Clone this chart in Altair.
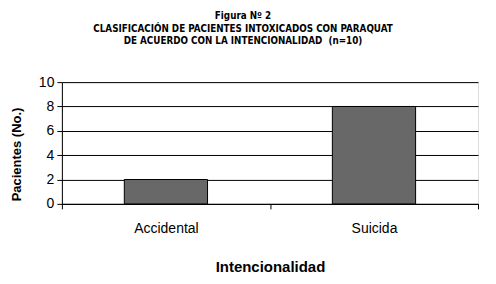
import altair as alt
import pandas as pd

categories = ["Accidental", "Suicida"]
patients = [2, 8]
y_ticks = [0, 2, 4, 6, 8, 10]
title_lines = ["Figura Nº 2",
               "CLASIFICACIÓN DE PACIENTES INTOXICADOS CON PARAQUAT",
               "DE ACUERDO CON LA INTENCIONALIDAD \u00a0(n=10)"]

df = pd.DataFrame({"cat": categories, "val": patients})

chart = alt.Chart(df).mark_bar(
    width=alt.RelativeBandSize(0.4), color="#686868", stroke="#000000", strokeWidth=1
).encode(
    x=alt.X("cat:N", sort=categories,
            scale=alt.Scale(paddingInner=0, paddingOuter=0),
            axis=alt.Axis(title="Intencionalidad", labelAngle=0, tickBand="extent",
                          labelFontSize=14, labelFont="Liberation Sans", labelColor="#000",
                          labelPadding=13, tickSize=5, tickColor="#000", domainColor="#000",
                          titleFontSize=15, titleFont="Liberation Sans", titleFontWeight="bold",
                          titleColor="#000", titlePadding=24, grid=False)),
    y=alt.Y("val:Q", scale=alt.Scale(domain=[0, 10]),
            axis=alt.Axis(title="Pacientes (No.)", values=y_ticks, grid=True, gridColor="#000",
                          gridOpacity=1, gridWidth=1, labelFontSize=14, labelFont="Liberation Sans",
                          labelColor="#000", labelPadding=3, tickSize=5, tickColor="#000",
                          domainColor="#000", titleFontSize=13, titleFont="Liberation Sans",
                          titleFontWeight="bold", titleColor="#000", titleAngle=270,
                          titleX=-45, titleY=72, titleBaseline="middle", titleAlign="center")),
).properties(
    width=417, height=122,
    autosize=alt.AutoSizeParams(type="none"),
    padding={"left": 54, "top": 74, "right": 10, "bottom": 72},
    title=alt.TitleParams(text=title_lines, fontSize=9.8, font="DejaVu Sans Condensed",
                          fontWeight="bold", color="#000", lineHeight=12.5, anchor="middle",
                          dx=-27, offset=29),
).configure_view(fill="#e3e3e3", stroke="#8c8c8c", strokeWidth=1
).configure(background="#ffffff")

chart.save("out.html", embed_options={"renderer": "svg", "actions": False})
